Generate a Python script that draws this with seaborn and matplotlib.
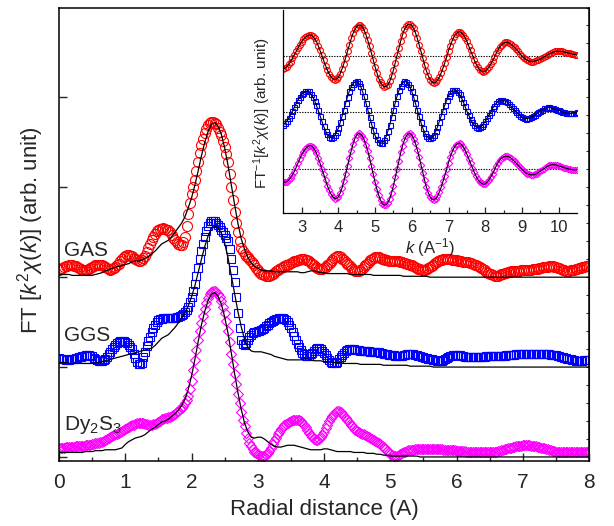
import numpy as np
import matplotlib
matplotlib.use("Agg")
import matplotlib.pyplot as plt
import seaborn as sns

sns.set_style("ticks")
plt.rcParams["font.family"] = ["Liberation Sans", "DejaVu Sans"]
plt.rcParams["mathtext.fontset"] = "custom"
plt.rcParams["mathtext.rm"] = "Liberation Sans"
plt.rcParams["mathtext.it"] = "Liberation Sans:italic"
plt.rcParams["mathtext.bf"] = "Liberation Sans:bold"

# ---------------- main panel: R grids (Angstrom) ----------------
r = np.round(np.arange(0, 8.0001, 0.025), 3)      # measured points
r_fit = np.round(np.arange(0, 8.0001, 0.05), 2)   # fit curves

gas_data = [
    2.08, 2.09, 2.10, 2.11, 2.12, 2.125, 2.13, 2.135, 2.13, 2.125, 2.12, 2.11, 2.10, 2.09, 2.08, 2.075, 2.08, 2.085, 2.09, 2.10,
    2.11, 2.12, 2.13, 2.135, 2.14, 2.135, 2.13, 2.12, 2.11, 2.10, 2.09, 2.085, 2.09, 2.10, 2.11, 2.13, 2.15, 2.175, 2.20, 2.22,
    2.24, 2.25, 2.25, 2.24, 2.23, 2.215, 2.20, 2.19, 2.18, 2.18, 2.19, 2.21, 2.24, 2.28, 2.32, 2.37, 2.41, 2.45, 2.48, 2.51,
    2.53, 2.54, 2.54, 2.545, 2.54, 2.53, 2.52, 2.50, 2.47, 2.44, 2.41, 2.39, 2.37, 2.36, 2.36, 2.39, 2.45, 2.57, 2.70, 2.82,
    2.92, 3.00, 3.08, 3.18, 3.28, 3.38, 3.47, 3.54, 3.60, 3.65, 3.69, 3.715, 3.73, 3.73, 3.72, 3.70, 3.66, 3.62, 3.58, 3.52,
    3.45, 3.37, 3.28, 3.15, 3.00, 2.86, 2.72, 2.60, 2.50, 2.40, 2.33, 2.29, 2.26, 2.24, 2.22, 2.20, 2.18, 2.155, 2.13, 2.105,
    2.08, 2.06, 2.04, 2.03, 2.02, 2.01, 2.01, 2.01, 2.02, 2.035, 2.05, 2.065, 2.08, 2.09, 2.10, 2.11, 2.12, 2.13, 2.14, 2.15,
    2.16, 2.17, 2.18, 2.185, 2.19, 2.195, 2.20, 2.20, 2.20, 2.195, 2.19, 2.175, 2.16, 2.145, 2.13, 2.115, 2.10, 2.09, 2.09, 2.09,
    2.10, 2.115, 2.13, 2.15, 2.17, 2.19, 2.21, 2.225, 2.23, 2.23, 2.22, 2.205, 2.19, 2.17, 2.15, 2.13, 2.11, 2.095, 2.08, 2.07,
    2.07, 2.07, 2.08, 2.095, 2.11, 2.13, 2.15, 2.17, 2.19, 2.20, 2.21, 2.22, 2.22, 2.22, 2.21, 2.205, 2.20, 2.195, 2.19, 2.185,
    2.18, 2.18, 2.18, 2.18, 2.18, 2.175, 2.17, 2.165, 2.16, 2.155, 2.15, 2.145, 2.14, 2.13, 2.12, 2.11, 2.10, 2.095, 2.09, 2.085,
    2.08, 2.08, 2.09, 2.10, 2.11, 2.125, 2.14, 2.155, 2.17, 2.18, 2.19, 2.195, 2.20, 2.20, 2.20, 2.20, 2.20, 2.195, 2.19, 2.19,
    2.19, 2.185, 2.18, 2.175, 2.17, 2.17, 2.17, 2.165, 2.16, 2.155, 2.15, 2.14, 2.13, 2.12, 2.11, 2.10, 2.09, 2.075, 2.06, 2.05,
    2.04, 2.03, 2.02, 2.01, 2.01, 2.01, 2.02, 2.03, 2.04, 2.045, 2.05, 2.055, 2.06, 2.065, 2.07, 2.07, 2.07, 2.07, 2.07, 2.075,
    2.08, 2.08, 2.08, 2.08, 2.08, 2.085, 2.09, 2.09, 2.09, 2.095, 2.10, 2.105, 2.11, 2.11, 2.11, 2.115, 2.12, 2.12, 2.12, 2.115,
    2.11, 2.105, 2.10, 2.09, 2.08, 2.075, 2.07, 2.07, 2.07, 2.075, 2.08, 2.085, 2.09, 2.095, 2.10, 2.105, 2.11, 2.115, 2.12, 2.12,
    2.12]

gas_fit = [
    2.03, 2.03, 2.03, 2.03, 2.02, 2.02, 2.02, 2.02, 2.02, 2.02,
    2.02, 2.03, 2.04, 2.05, 2.07, 2.08, 2.10, 2.11, 2.12, 2.13,
    2.14, 2.15, 2.17, 2.18, 2.18, 2.19, 2.21, 2.23, 2.26, 2.29,
    2.33, 2.37, 2.39, 2.41, 2.45, 2.50, 2.55, 2.60, 2.67, 2.77,
    2.88, 3.02, 3.18, 3.35, 3.50, 3.62, 3.70, 3.72, 3.68, 3.59,
    3.44, 3.25, 3.03, 2.81, 2.60, 2.43, 2.31, 2.22, 2.16, 2.12,
    2.10, 2.08, 2.07, 2.07, 2.07, 2.06, 2.06, 2.06, 2.06, 2.06,
    2.06, 2.06, 2.06, 2.05, 2.05, 2.06, 2.07, 2.07, 2.06, 2.05,
    2.05, 2.04, 2.04, 2.04, 2.04, 2.04, 2.04, 2.04, 2.03, 2.03,
    2.03, 2.03, 2.03, 2.03, 2.03, 2.02, 2.02, 2.02, 2.02, 2.02,
    2.02, 2.02, 2.02, 2.02, 2.01, 2.01, 2.01, 2.01, 2.01, 2.01,
    2.01, 2.01, 2.00, 2.00, 2.00, 2.00, 2.00, 2.00, 2.00, 2.00,
    2.00, 2.00, 2.00, 2.00, 2.00, 2.00, 2.00, 2.00, 2.00, 2.00,
    2.00, 2.00, 2.00, 2.00, 2.00, 2.00, 2.00, 2.00, 2.00, 2.00,
    2.00, 2.00, 2.00, 2.00, 2.00, 2.00, 2.00, 2.00, 2.00, 2.00,
    2.00, 2.00, 2.00, 2.00, 2.00, 2.00, 2.00, 2.00, 2.00, 2.00,
    2.00]

ggs_data = [
    1.10, 1.095, 1.09, 1.085, 1.08, 1.078, 1.08, 1.085, 1.09, 1.095, 1.10, 1.105, 1.11, 1.115, 1.12, 1.125, 1.13, 1.132, 1.13, 1.127,
    1.12, 1.105, 1.09, 1.078, 1.07, 1.066, 1.07, 1.078, 1.09, 1.113, 1.14, 1.17, 1.20, 1.227, 1.25, 1.268, 1.28, 1.288, 1.29, 1.288,
    1.28, 1.268, 1.25, 1.228, 1.20, 1.15, 1.10, 1.055, 1.03, 1.03, 1.05, 1.11, 1.17, 1.23, 1.29, 1.34, 1.39, 1.43, 1.47, 1.50,
    1.52, 1.53, 1.54, 1.545, 1.55, 1.55, 1.55, 1.55, 1.55, 1.55, 1.55, 1.555, 1.56, 1.57, 1.58, 1.593, 1.61, 1.635, 1.67, 1.72,
    1.78, 1.85, 1.92, 2.01, 2.10, 2.20, 2.29, 2.37, 2.45, 2.515, 2.57, 2.60, 2.62, 2.625, 2.62, 2.60, 2.58, 2.555, 2.53, 2.50,
    2.47, 2.44, 2.40, 2.31, 2.20, 2.08, 1.95, 1.78, 1.60, 1.43, 1.30, 1.26, 1.25, 1.27, 1.30, 1.33, 1.36, 1.375, 1.39, 1.395,
    1.40, 1.405, 1.41, 1.425, 1.44, 1.455, 1.47, 1.485, 1.50, 1.51, 1.52, 1.53, 1.54, 1.548, 1.55, 1.548, 1.54, 1.525, 1.50, 1.47,
    1.43, 1.39, 1.35, 1.305, 1.26, 1.22, 1.19, 1.16, 1.14, 1.125, 1.12, 1.125, 1.14, 1.16, 1.18, 1.198, 1.21, 1.208, 1.20, 1.183,
    1.16, 1.13, 1.10, 1.077, 1.06, 1.047, 1.04, 1.045, 1.06, 1.085, 1.11, 1.137, 1.16, 1.177, 1.19, 1.197, 1.20, 1.20, 1.20, 1.195,
    1.19, 1.185, 1.18, 1.18, 1.18, 1.18, 1.18, 1.175, 1.17, 1.17, 1.17, 1.17, 1.17, 1.165, 1.16, 1.155, 1.15, 1.145, 1.14, 1.135,
    1.13, 1.13, 1.13, 1.125, 1.12, 1.12, 1.12, 1.125, 1.13, 1.135, 1.14, 1.14, 1.14, 1.14, 1.14, 1.135, 1.13, 1.125, 1.12, 1.115,
    1.11, 1.105, 1.10, 1.095, 1.09, 1.085, 1.08, 1.075, 1.07, 1.068, 1.07, 1.073, 1.08, 1.09, 1.10, 1.11, 1.12, 1.125, 1.13, 1.13,
    1.13, 1.13, 1.13, 1.125, 1.12, 1.115, 1.11, 1.11, 1.11, 1.11, 1.11, 1.11, 1.11, 1.11, 1.11, 1.11, 1.11, 1.115, 1.12, 1.12,
    1.12, 1.12, 1.12, 1.12, 1.12, 1.12, 1.12, 1.12, 1.12, 1.125, 1.13, 1.13, 1.13, 1.13, 1.13, 1.135, 1.14, 1.14, 1.14, 1.145,
    1.15, 1.15, 1.15, 1.15, 1.15, 1.15, 1.15, 1.15, 1.15, 1.15, 1.15, 1.145, 1.14, 1.14, 1.14, 1.14, 1.14, 1.135, 1.13, 1.13,
    1.13, 1.125, 1.12, 1.115, 1.11, 1.105, 1.10, 1.095, 1.09, 1.085, 1.08, 1.075, 1.07, 1.07, 1.07, 1.07, 1.07, 1.075, 1.08, 1.08,
    1.08]

ggs_fit = [
    1.05, 1.05, 1.05, 1.04, 1.04, 1.04, 1.04, 1.04, 1.04, 1.04,
    1.04, 1.05, 1.05, 1.06, 1.07, 1.08, 1.09, 1.10, 1.11, 1.12,
    1.13, 1.14, 1.15, 1.16, 1.17, 1.18, 1.19, 1.20, 1.21, 1.24,
    1.28, 1.32, 1.34, 1.36, 1.40, 1.44, 1.49, 1.54, 1.60, 1.68,
    1.78, 1.90, 2.05, 2.20, 2.34, 2.46, 2.54, 2.57, 2.55, 2.49,
    2.38, 2.22, 2.02, 1.82, 1.62, 1.45, 1.31, 1.22, 1.18, 1.17,
    1.17, 1.17, 1.16, 1.15, 1.14, 1.12, 1.11, 1.10, 1.09, 1.08,
    1.08, 1.08, 1.08, 1.08, 1.09, 1.09, 1.08, 1.07, 1.07, 1.07,
    1.06, 1.06, 1.06, 1.05, 1.05, 1.05, 1.04, 1.04, 1.04, 1.04,
    1.04, 1.03, 1.03, 1.03, 1.03, 1.03, 1.03, 1.03, 1.02, 1.02,
    1.02, 1.02, 1.02, 1.02, 1.02, 1.02, 1.01, 1.01, 1.01, 1.01,
    1.01, 1.01, 1.01, 1.00, 1.00, 1.00, 1.00, 1.00, 1.00, 1.00,
    1.00, 1.00, 1.00, 1.00, 1.00, 1.00, 1.00, 1.00, 1.00, 1.00,
    1.00, 1.00, 1.00, 1.00, 1.00, 1.00, 1.00, 1.00, 1.00, 1.00,
    1.00, 1.00, 1.00, 1.00, 1.00, 1.00, 1.00, 1.00, 1.00, 1.00,
    1.00, 1.00, 1.00, 1.00, 1.00, 1.00, 1.00, 1.00, 1.00, 1.00,
    1.00]

dys_data = [
    0.10, 0.10, 0.10, 0.105, 0.11, 0.11, 0.11, 0.11, 0.11, 0.115, 0.12, 0.12, 0.12, 0.12, 0.12, 0.125, 0.13, 0.13, 0.13, 0.135,
    0.14, 0.145, 0.15, 0.155, 0.16, 0.165, 0.17, 0.18, 0.19, 0.20, 0.21, 0.22, 0.23, 0.24, 0.25, 0.26, 0.27, 0.28, 0.29, 0.30,
    0.31, 0.32, 0.33, 0.34, 0.35, 0.36, 0.37, 0.377, 0.38, 0.382, 0.38, 0.376, 0.37, 0.365, 0.36, 0.357, 0.36, 0.363, 0.37, 0.38,
    0.39, 0.405, 0.42, 0.425, 0.43, 0.435, 0.44, 0.45, 0.46, 0.47, 0.48, 0.495, 0.51, 0.53, 0.55, 0.57, 0.60, 0.635, 0.68, 0.76,
    0.85, 0.965, 1.08, 1.19, 1.30, 1.40, 1.49, 1.57, 1.65, 1.715, 1.77, 1.81, 1.84, 1.85, 1.85, 1.835, 1.81, 1.775, 1.73, 1.67,
    1.60, 1.51, 1.40, 1.275, 1.15, 1.035, 0.92, 0.81, 0.70, 0.60, 0.50, 0.415, 0.34, 0.27, 0.21, 0.16, 0.12, 0.085, 0.06, 0.04,
    0.03, 0.018, 0.01, 0.007, 0.01, 0.022, 0.04, 0.068, 0.10, 0.14, 0.18, 0.215, 0.25, 0.28, 0.31, 0.33, 0.35, 0.367, 0.38, 0.39,
    0.40, 0.407, 0.41, 0.412, 0.41, 0.407, 0.40, 0.383, 0.36, 0.33, 0.30, 0.27, 0.24, 0.218, 0.20, 0.192, 0.19, 0.202, 0.22, 0.248,
    0.28, 0.32, 0.36, 0.397, 0.43, 0.457, 0.48, 0.497, 0.51, 0.508, 0.50, 0.482, 0.46, 0.435, 0.41, 0.385, 0.36, 0.34, 0.32, 0.305,
    0.29, 0.28, 0.27, 0.26, 0.25, 0.24, 0.23, 0.22, 0.21, 0.20, 0.19, 0.18, 0.17, 0.155, 0.14, 0.125, 0.11, 0.09, 0.07, 0.05,
    0.03, 0.018, 0.01, 0.008, 0.01, 0.02, 0.03, 0.04, 0.05, 0.06, 0.07, 0.075, 0.08, 0.08, 0.08, 0.085, 0.09, 0.09, 0.09, 0.09,
    0.09, 0.09, 0.09, 0.09, 0.09, 0.09, 0.09, 0.09, 0.09, 0.09, 0.09, 0.085, 0.08, 0.08, 0.08, 0.08, 0.08, 0.08, 0.08, 0.075,
    0.07, 0.07, 0.07, 0.07, 0.07, 0.065, 0.06, 0.06, 0.06, 0.06, 0.06, 0.06, 0.06, 0.06, 0.06, 0.055, 0.05, 0.05, 0.05, 0.05,
    0.05, 0.05, 0.05, 0.055, 0.06, 0.065, 0.07, 0.075, 0.08, 0.085, 0.09, 0.095, 0.10, 0.105, 0.11, 0.115, 0.12, 0.12, 0.12, 0.125,
    0.13, 0.13, 0.13, 0.13, 0.13, 0.125, 0.12, 0.12, 0.12, 0.115, 0.11, 0.105, 0.10, 0.095, 0.09, 0.085, 0.08, 0.075, 0.07, 0.065,
    0.06, 0.06, 0.06, 0.06, 0.06, 0.06, 0.06, 0.06, 0.06, 0.06, 0.06, 0.06, 0.06, 0.06, 0.06, 0.06, 0.06, 0.06, 0.06, 0.06,
    0.06]

dys_fit = [
    0.05, 0.05, 0.05, 0.05, 0.05, 0.05, 0.05, 0.05, 0.06, 0.06,
    0.06, 0.07, 0.07, 0.07, 0.08, 0.08, 0.08, 0.08, 0.09, 0.10,
    0.14, 0.17, 0.19, 0.21, 0.22, 0.23, 0.25, 0.28, 0.31, 0.33,
    0.36, 0.39, 0.40, 0.42, 0.45, 0.48, 0.52, 0.57, 0.64, 0.75,
    0.90, 1.08, 1.28, 1.47, 1.62, 1.74, 1.81, 1.83, 1.79, 1.70,
    1.56, 1.38, 1.16, 0.93, 0.72, 0.53, 0.38, 0.28, 0.22, 0.21,
    0.22, 0.22, 0.20, 0.17, 0.14, 0.12, 0.11, 0.11, 0.12, 0.13,
    0.13, 0.13, 0.12, 0.11, 0.10, 0.09, 0.08, 0.08, 0.08, 0.08,
    0.09, 0.09, 0.08, 0.07, 0.06, 0.06, 0.06, 0.06, 0.06, 0.05,
    0.05, 0.05, 0.05, 0.04, 0.04, 0.04, 0.03, 0.03, 0.02, 0.02,
    0.01, 0.01, 0.01, 0.01, 0.01, 0.01, 0.01, 0.01, 0.01, 0.00,
    0.00, 0.00, 0.00, 0.00, 0.00, 0.00, 0.00, 0.00, 0.00, 0.00,
    0.00, 0.00, 0.00, 0.00, 0.00, 0.00, 0.00, 0.00, 0.00, 0.00,
    0.00, 0.00, 0.00, 0.00, 0.00, 0.00, 0.00, 0.00, 0.00, 0.00,
    0.00, 0.00, 0.00, 0.00, 0.00, 0.00, 0.00, 0.00, 0.00, 0.00,
    0.00, 0.00, 0.00, 0.00, 0.00, 0.00, 0.00, 0.00, 0.00, 0.00,
    0.00]

main_yticks = [0, 1, 2, 3, 4]
main_xticks = [0, 1, 2, 3, 4, 5, 6, 7, 8]
labels = ["GAS", "GGS", r"Dy$_2$S$_3$"]
label_y = [2.24, 1.29, 0.30]

# ---------------- inset: k grid (1/Angstrom) ----------------
k = np.round(np.arange(2.5, 10.5001, 0.05), 2)

gas_k = [
    -0.23, -0.215, -0.19, -0.15, -0.10, -0.04, 0.02, 0.08, 0.14, 0.20, 0.25, 0.295, 0.33, 0.355, 0.37, 0.372, 0.35, 0.31, 0.26, 0.185,
    0.10, 0.01, -0.08, -0.17, -0.25, -0.32, -0.37, -0.405, -0.42, -0.41, -0.38, -0.315, -0.23, -0.135, -0.03, 0.085, 0.20, 0.31, 0.40, 0.47,
    0.52, 0.545, 0.55, 0.52, 0.46, 0.38, 0.28, 0.17, 0.05, -0.07, -0.19, -0.30, -0.40, -0.47, -0.52, -0.545, -0.54, -0.51, -0.45, -0.36,
    -0.25, -0.12, 0.01, 0.14, 0.27, 0.38, 0.47, 0.53, 0.56, 0.565, 0.54, 0.49, 0.41, 0.31, 0.20, 0.08, -0.04, -0.16, -0.27, -0.355,
    -0.42, -0.465, -0.48, -0.47, -0.43, -0.375, -0.30, -0.215, -0.12, -0.015, 0.09, 0.185, 0.27, 0.34, 0.39, 0.42, 0.43, 0.415, 0.38, 0.325,
    0.26, 0.18, 0.10, 0.015, -0.07, -0.14, -0.20, -0.245, -0.27, -0.285, -0.27, -0.24, -0.20, -0.145, -0.09, -0.02, 0.05, 0.11, 0.16, 0.20,
    0.23, 0.24, 0.24, 0.23, 0.21, 0.18, 0.15, 0.115, 0.08, 0.04, 0.00, -0.03, -0.06, -0.08, -0.09, -0.10, -0.10, -0.09, -0.08, -0.07,
    -0.06, -0.04, -0.02, 0.00, 0.02, 0.035, 0.05, 0.065, 0.08, 0.082, 0.08, 0.082, 0.08, 0.07, 0.06, 0.055, 0.05, 0.04, 0.03, 0.025,
    0.02]

ggs_k = [
    -0.22, -0.19, -0.15, -0.095, -0.04, 0.025, 0.09, 0.155, 0.22, 0.275, 0.32, 0.35, 0.37, 0.38, 0.37, 0.33, 0.28, 0.21, 0.13, 0.035,
    -0.06, -0.16, -0.25, -0.325, -0.39, -0.43, -0.45, -0.44, -0.41, -0.35, -0.28, -0.18, -0.07, 0.05, 0.17, 0.28, 0.38, 0.455, 0.51, 0.54,
    0.55, 0.52, 0.47, 0.385, 0.29, 0.17, 0.05, -0.08, -0.20, -0.315, -0.41, -0.48, -0.53, -0.55, -0.54, -0.495, -0.43, -0.33, -0.22, -0.09,
    0.04, 0.17, 0.29, 0.39, 0.47, 0.52, 0.55, 0.54, 0.51, 0.45, 0.37, 0.27, 0.16, 0.045, -0.07, -0.18, -0.28, -0.36, -0.42, -0.45,
    -0.46, -0.44, -0.40, -0.335, -0.26, -0.165, -0.07, 0.03, 0.13, 0.215, 0.29, 0.35, 0.39, 0.40, 0.39, 0.36, 0.32, 0.26, 0.19, 0.105,
    0.02, -0.05, -0.12, -0.18, -0.23, -0.255, -0.27, -0.26, -0.24, -0.205, -0.16, -0.105, -0.05, 0.01, 0.07, 0.12, 0.16, 0.195, 0.22, 0.22,
    0.21, 0.20, 0.18, 0.145, 0.11, 0.075, 0.04, 0.005, -0.03, -0.06, -0.09, -0.105, -0.11, -0.108, -0.10, -0.085, -0.07, -0.045, -0.02, 0.005,
    0.03, 0.05, 0.07, 0.082, 0.09, 0.088, 0.08, 0.07, 0.06, 0.05, 0.04, 0.025, 0.01, 0.00, -0.01, -0.017, -0.02, -0.017, -0.01, -0.005,
    0.00]

dys_k = [
    -0.23, -0.24, -0.23, -0.20, -0.16, -0.105, -0.05, 0.025, 0.10, 0.175, 0.25, 0.305, 0.35, 0.385, 0.41, 0.41, 0.39, 0.34, 0.28, 0.19,
    0.10, 0.00, -0.10, -0.20, -0.30, -0.385, -0.45, -0.50, -0.53, -0.525, -0.50, -0.43, -0.34, -0.22, -0.09, 0.05, 0.19, 0.32, 0.44, 0.535,
    0.60, 0.625, 0.62, 0.58, 0.52, 0.425, 0.32, 0.19, 0.05, -0.10, -0.24, -0.365, -0.47, -0.56, -0.62, -0.645, -0.64, -0.60, -0.53, -0.425,
    -0.30, -0.155, -0.01, 0.14, 0.29, 0.41, 0.51, 0.58, 0.62, 0.625, 0.60, 0.535, 0.45, 0.335, 0.21, 0.07, -0.07, -0.205, -0.33, -0.43,
    -0.50, -0.54, -0.55, -0.53, -0.49, -0.415, -0.33, -0.225, -0.12, -0.005, 0.11, 0.21, 0.30, 0.37, 0.42, 0.445, 0.45, 0.43, 0.39, 0.33,
    0.26, 0.18, 0.10, 0.02, -0.06, -0.13, -0.19, -0.23, -0.26, -0.275, -0.27, -0.24, -0.20, -0.145, -0.09, -0.02, 0.05, 0.11, 0.16, 0.19,
    0.21, 0.22, 0.22, 0.21, 0.19, 0.16, 0.13, 0.095, 0.06, 0.025, -0.01, -0.04, -0.07, -0.09, -0.10, -0.108, -0.11, -0.10, -0.09, -0.065,
    -0.04, -0.02, 0.00, 0.023, 0.045, 0.06, 0.07, 0.073, 0.07, 0.062, 0.05, 0.04, 0.03, 0.02, 0.01, 0.00, -0.01, -0.015, -0.02, -0.02,
    -0.02]

inset_offsets = [2.0, 1.0, 0.0]
inset_xticks = [3, 4, 5, 6, 7, 8, 9, 10]

colors = ["#FF0000", "#0000FF", "#FF00FF"]
markers = ["o", "s", "D"]

# ---------------- figure ----------------
fig = plt.figure(figsize=(6.14, 5.26), dpi=100)
ax = fig.add_axes([59 / 614, (526 - 461) / 526, (589 - 59) / 614, (461 - 7.5) / 526])

main_ms = [7.2, 6.4, 5.2]
for data, fit, col, mk, ms in zip([gas_data, ggs_data, dys_data],
                                  [gas_fit, ggs_fit, dys_fit],
                                  colors, markers, main_ms):
    sns.lineplot(x=r, y=data, ax=ax, estimator=None, sort=False,
                 linestyle="none", marker=mk, markersize=ms,
                 markerfacecolor="none", markeredgecolor=col,
                 markeredgewidth=0.8, color=col)
    sns.lineplot(x=r_fit, y=fit, ax=ax, estimator=None, sort=False,
                 color="black", linewidth=0.9)

for lab, ly in zip(labels, label_y):
    ax.text(0.07, ly, lab, fontsize=15, ha="left", va="baseline")

ax.set_xlim(0, 8)
ax.set_ylim(-0.045, 5.0)
ax.set_xticks(main_xticks)
ax.set_xticks(np.arange(0.5, 8, 1.0), minor=True)
ax.set_yticks(main_yticks)
ax.set_yticklabels([])
ax.tick_params(axis="both", which="major", direction="in", length=6, width=1.0,
               labelsize=15, pad=9)
ax.tick_params(axis="x", which="minor", direction="in", length=3, width=1.0)
ax.tick_params(axis="y", which="minor", left=False)
for sp in ax.spines.values():
    sp.set_linewidth(1.1)
    sp.set_color("black")

sec = ax.secondary_yaxis("right")
sec.set_yticks(np.round(np.arange(0, 5.01, 0.2), 1))
sec.set_yticklabels([])
sec.tick_params(direction="in", length=2.5, width=0.8)

ax.set_xlabel("Radial distance (A)", fontsize=16, labelpad=5)
ax.set_ylabel(r"FT [$k^2\chi(k)$] (arb. unit)", fontsize=16)
ax.yaxis.set_label_coords(-0.024, 0.51)

# ---------------- inset ----------------
axi = fig.add_axes([283.3 / 614, (526 - 213) / 526, (577 - 283.3) / 614, (213 - 10) / 526])
axi.set_facecolor("white")
for off in inset_offsets:
    axi.axhline(off, color="black", linestyle=(0, (1.2, 1.2)), linewidth=0.8)

inset_ms = [4.2, 3.6, 3.3]
for data, col, mk, ms, off in zip([gas_k, ggs_k, dys_k], colors, markers,
                                  inset_ms, inset_offsets):
    yv = np.array(data) + off
    sns.lineplot(x=k, y=yv, ax=axi, estimator=None, sort=False,
                 linestyle="none", marker=mk, markersize=ms,
                 markerfacecolor="none", markeredgecolor=col,
                 markeredgewidth=0.8, color=col)
    sns.lineplot(x=k, y=yv, ax=axi, estimator=None, sort=False,
                 color="black", linewidth=0.8)

axi.set_xlim(2.5, 10.5)
axi.set_ylim(-0.785, 2.815)
axi.set_xticks(inset_xticks)
axi.set_xticks(np.arange(3.5, 10.5, 1.0), minor=True)
axi.set_yticks([])
axi.spines["top"].set_visible(False)
axi.spines["right"].set_visible(False)
for sp in ["left", "bottom"]:
    axi.spines[sp].set_linewidth(0.9)
    axi.spines[sp].set_color("black")
axi.tick_params(axis="x", which="major", direction="in", length=4, width=0.9,
                labelsize=12, pad=5)
axi.tick_params(axis="x", which="minor", direction="in", length=2, width=0.9)
axi.set_xlabel(r"$k$ (A$^{-1}$)", fontsize=12, labelpad=1)
axi.set_ylabel(r"FT$^{-1}$[$k^2\chi(k)$] (arb. unit)", fontsize=11)
axi.yaxis.set_label_coords(-0.034, 0.49)

fig.savefig("out.png", dpi=100)
